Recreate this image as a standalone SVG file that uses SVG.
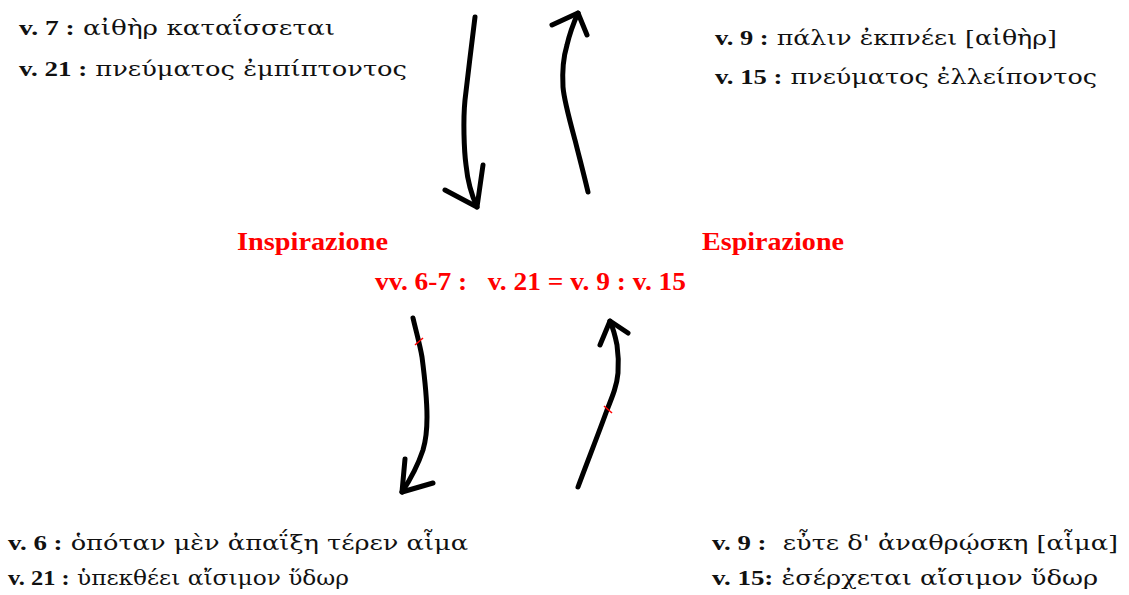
<svg xmlns="http://www.w3.org/2000/svg" width="1129" height="595" viewBox="0 0 1129 595">
<style>
.bk{font-family:"DejaVu Serif","Liberation Serif",serif;font-size:21px;fill:#111;white-space:pre}
.v{font-family:"Liberation Serif","DejaVu Serif",serif;font-weight:bold;font-size:22px}
.rd{font-family:"Liberation Serif","DejaVu Serif",serif;font-weight:bold;font-size:25px;fill:#ff0000;white-space:pre}
.arr{fill:none;stroke:#000;stroke-width:5;stroke-linecap:round;stroke-linejoin:round}
.tick{stroke:#ff0000;stroke-width:1.5}
</style>
<rect width="1129" height="595" fill="#fff"/>
<g id="top-left">
<text class="bk" x="19" y="35" textLength="316" lengthAdjust="spacingAndGlyphs"><tspan class="v">v. 7 :</tspan> αἰθὴρ καταΐσσεται</text>
<text class="bk" x="19" y="76" textLength="388" lengthAdjust="spacingAndGlyphs"><tspan class="v">v. 21 :</tspan> πνεύματος ἐμπίπτοντος</text>
</g>
<g id="top-right">
<text class="bk" x="715" y="45" textLength="342" lengthAdjust="spacingAndGlyphs"><tspan class="v">v. 9 :</tspan> πάλιν ἐκπνέει [αἰθὴρ]</text>
<text class="bk" x="715" y="84" textLength="382" lengthAdjust="spacingAndGlyphs"><tspan class="v">v. 15 :</tspan> πνεύματος ἐλλείποντος</text>
</g>
<g id="inspirazione">
<text class="rd" x="237" y="250" textLength="151" lengthAdjust="spacingAndGlyphs">Inspirazione</text>
</g>
<g id="espirazione">
<text class="rd" x="702" y="250" textLength="142" lengthAdjust="spacingAndGlyphs">Espirazione</text>
</g>
<g id="equation">
<text class="rd" x="375" y="290" textLength="311" lengthAdjust="spacingAndGlyphs">vv. 6-7 :   v. 21 = v. 9 : v. 15</text>
</g>
<g id="bottom-left">
<text class="bk" x="8" y="550" textLength="460" lengthAdjust="spacingAndGlyphs"><tspan class="v">v. 6 :</tspan> ὁπόταν μὲν ἀπαΐξη τέρεν αἷμα</text>
<text class="bk" x="8" y="585" textLength="341" lengthAdjust="spacingAndGlyphs"><tspan class="v">v. 21 :</tspan> ὑπεκθέει αἴσιμον ὕδωρ</text>
</g>
<g id="bottom-right">
<text class="bk" x="712" y="550" textLength="406" lengthAdjust="spacingAndGlyphs"><tspan class="v">v. 9 :</tspan>  εὖτε δ' ἀναθρῴσκη [αἷμα]</text>
<text class="bk" x="712" y="585" textLength="386" lengthAdjust="spacingAndGlyphs"><tspan class="v">v. 15:</tspan> ἐσέρχεται αἴσιμον ὕδωρ</text>
</g>
<g id="connectors">
<path class="arr" d="M475,17 C472,40 468,75 465,100 C463,120 464,150 466,165 C468,185 472,196 477,207"/>
<path class="arr" d="M445,190 L477,207 L483,165"/>
<path class="arr" d="M588,192 C584,175 580,160 575,140 C569,118 564,100 563,87 C562,70 564,55 567,45 C570,32 574,22 578,13"/>
<path class="arr" d="M552,25 L578,13 L587,35"/>
<path class="arr" d="M413,318 C417,335 420,345 422,357 C425,380 427,400 427,417 C427,430 426,440 423,450 C418,465 410,480 402,492"/>
<path class="arr" d="M405,459 L402,492 L433,483"/>
<path class="arr" d="M578,487 C588,460 598,435 607,410 C613,395 617,385 618,373 C619,360 618,352 617,345 C615,335 613,328 610,321"/>
<path class="arr" d="M600,345 L610,321 L628,333"/>
<line class="tick" x1="415" y1="345" x2="423" y2="338"/>
<line class="tick" x1="604" y1="406" x2="612" y2="413"/>
</g>
</svg>
